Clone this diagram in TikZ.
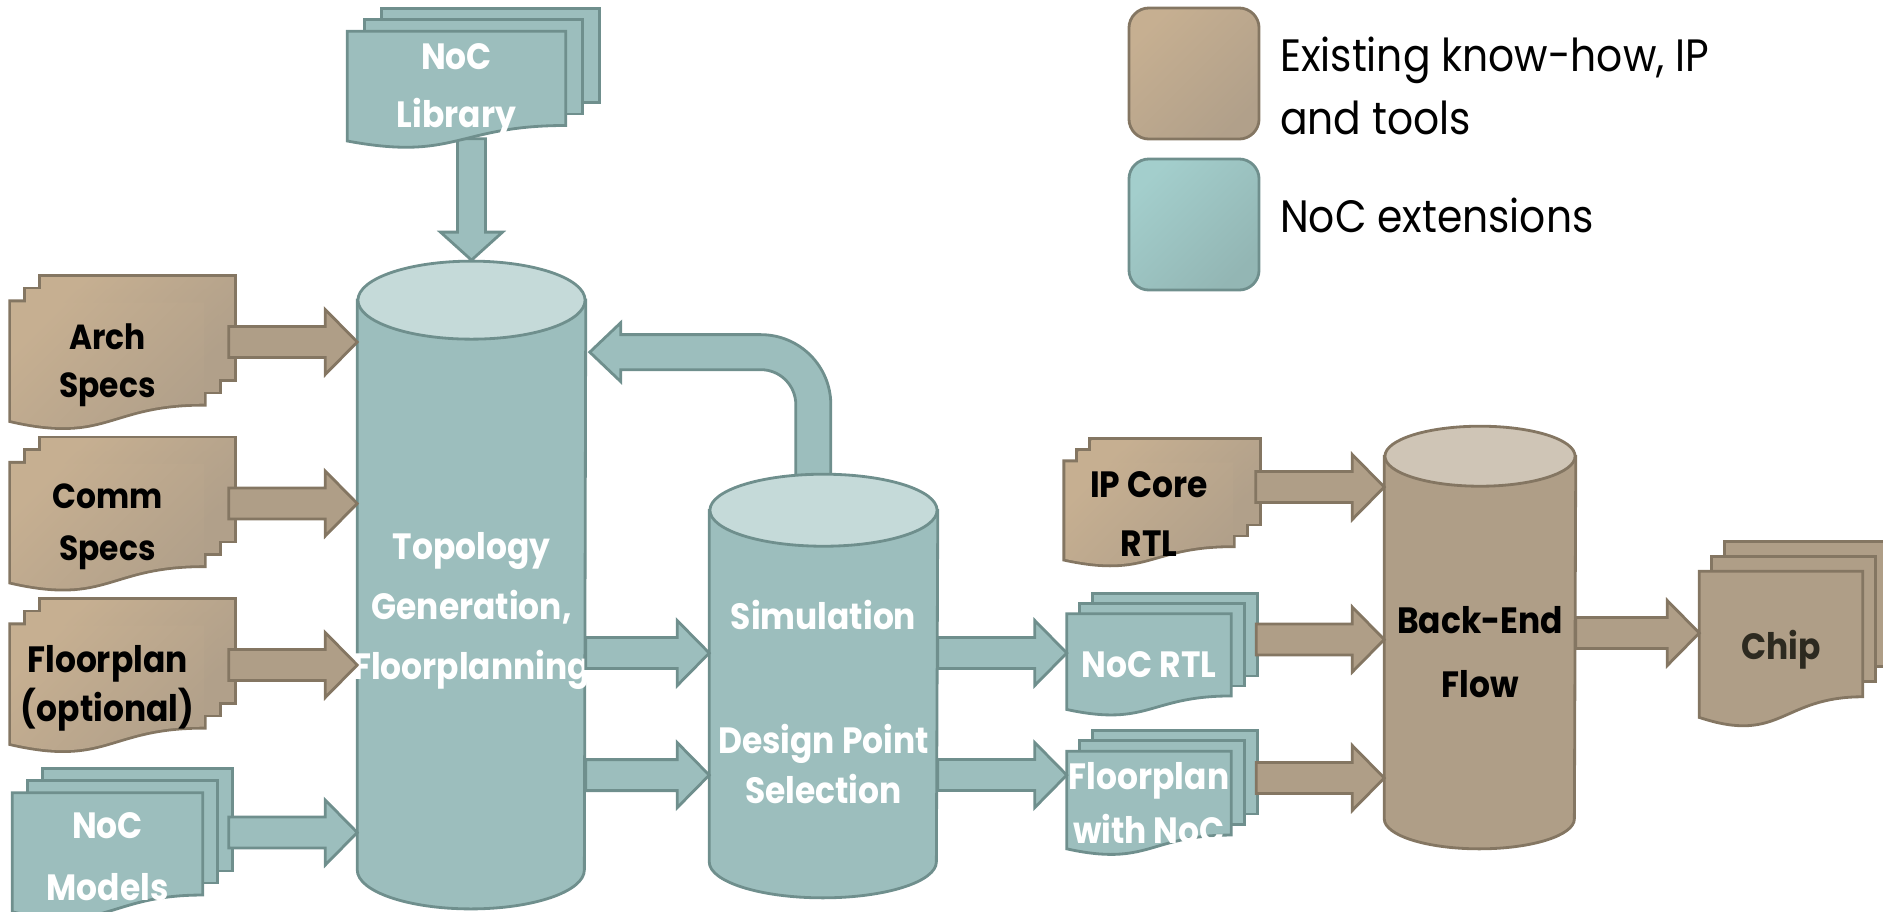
\documentclass[tikz,border=0pt]{standalone}
\usepackage{fontspec}
\setmainfont{Poppins}[FakeStretch=0.9]
\usetikzlibrary{positioning,calc,backgrounds}

\definecolor{tealF}{HTML}{9CBEBD}
\definecolor{tealD}{HTML}{6F8F8D}
\definecolor{tealTop}{HTML}{C5DAD9}
\definecolor{brownF}{HTML}{AF9E87}
\definecolor{brownD}{HTML}{847662}
\definecolor{brownTop}{HTML}{CFC5B6}
\definecolor{brownA}{HTML}{C6AF91}
\definecolor{brownB}{HTML}{B1A08A}
\definecolor{legtealA}{HTML}{A3CECC}
\definecolor{legtealB}{HTML}{93B6B4}
\definecolor{chiptext}{HTML}{2D2A20}

% three stacked sheets behind a named front page
\newcommand{\pages}[4]{%
  \path[#4] ($(#1.north west)+(2*#2,-2*#3)$) rectangle ($(#1.north east)!.802!(#1.south east)+(2*#2,-2*#3)$);
  \path[#4] ($(#1.north west)+(#2,-#3)$) rectangle ($(#1.north east)!.802!(#1.south east)+(#2,-#3)$);
  \path[#4] (#1.north west) -- (#1.north east) -- ($(#1.north east)!.802!(#1.south east)$)
    .. controls ($(#1.north)!.802!(#1.south)$) and ($(#1.north)!1.1075!(#1.south)$)
    .. ($(#1.north west)!.934!(#1.south west)$) -- cycle;}

% block arrow from a start point to the x of a target node
\newcommand{\barrow}[3]{%
  \path[#1] let \p1=(#2), \p2=(#3) in
    (\x1,{\y1+0.155cm}) -- ({\x2-0.32cm},{\y1+0.155cm}) -- ({\x2-0.32cm},{\y1+0.325cm})
    -- (\x2,\y1) -- ({\x2-0.32cm},{\y1-0.325cm}) -- ({\x2-0.32cm},{\y1-0.155cm})
    -- (\x1,{\y1-0.155cm}) -- cycle;}

\begin{document}
\begin{tikzpicture}[
    x=0.01cm, y=-0.01cm,
    page/.style={inner xsep=-0.4cm, inner ysep=-0.2cm, align=center},
    body/.style={inner sep=0pt},
    wtxt/.style={text=white, align=center, inner sep=0pt, font=\bfseries\fontsize{10.4}{#1}\selectfont},
    wtxt/.default=16.5,
    btxt/.style={text=black, align=center, inner sep=0pt, font=\bfseries\fontsize{10.4}{#1}\selectfont},
    btxt/.default=16.5,
    bsmall/.style={text=black, align=center, font=\bfseries\fontsize{9.9}{#1}\selectfont},
    bsmall/.default=13.7,
    legtxt/.style={align=left, inner sep=0pt, font=\fontsize{12.9}{17.9}\selectfont},
    legend/.style={minimum width=1.30cm, minimum height=1.31cm, rounded corners=0.2cm, line width=.8pt},
    tealpage/.style={fill=tealF, draw=tealD, line width=.8pt},
    tealcap/.style={fill=tealTop, draw=tealD, line width=.8pt},
    brownpage/.style={fill=brownF, draw=brownD, line width=.8pt},
    browncap/.style={fill=brownTop, draw=brownD, line width=.8pt},
    brownedge/.style={draw=brownD, line width=1.6pt},
    brownfill/.style={top color=brownA, bottom color=brownB, shading angle=45},
    tealarrow/.style={fill=tealF, draw=tealD, line width=.8pt},
    brownarrow/.style={fill=brownF, draw=brownD, line width=.8pt}
]
\useasboundingbox (0,0) rectangle (1883,911);

% legend
\node[legend, draw=brownD, top color=brownA, bottom color=brownB, shading angle=45] (legA) at (1194,73.5) {};
\node[legend, draw=tealD, top color=legtealA, bottom color=legtealB, shading angle=45] (legB) at (1194,224.5) {};
\node[legtxt, right=0.19cm of legA, yshift=-0.12cm] (legAT) {Existing know-how, IP\\and tools};
\node[legtxt, right=0.19cm of legB, yshift=0.095cm] (legBT) {NoC extensions};

% inputs
\node[page, wtxt=16.5, minimum width=2.17cm, minimum height=1.16cm] (lib) at (456.5,90) {NoC\\Library};
\node[page, bsmall, minimum width=1.91cm, minimum height=1.25cm] (arch) at (107.5,365.5) {Arch\\Specs};
\node[page, bsmall=14.8, minimum width=1.91cm, minimum height=1.25cm, below=0.35cm of arch] (comm) {Comm\\Specs};
\node[page, btxt=14, minimum width=1.91cm, minimum height=1.25cm, below=0.35cm of comm] (floor) {Floorplan\\(optional)};
\node[page, wtxt=17.6, minimum width=1.89cm, minimum height=1.26cm, below=0.41cm of floor] (models) {NoC\\Models};

% tools
\node[body, minimum width=2.27cm, minimum height=5.68cm] (topo) at (471.5,585) {};
\node[wtxt=17] (topoT) at ([yshift=-0.26cm]topo.center) {Topology\\Generation,\\Floorplanning};
\node[body, minimum width=2.27cm, minimum height=3.50cm] (sim) at (823.5,686) {};
\node[wtxt=14.2] (simT) at ([yshift=-0.16cm]sim.center) {Simulation\\[0.74cm]Design Point\\Selection};

% outputs
\node[page, btxt=16.8, minimum width=1.66cm, minimum height=1.02cm] (ipcore) at (1149,514) {IP Core\\RTL};
\node[page, wtxt, minimum width=1.63cm, minimum height=1.01cm, below=0.48cm of ipcore] (nocrtl) {NoC RTL};
\node[page, wtxt=15.4, minimum width=1.63cm, minimum height=1.03cm, below=0.35cm of nocrtl] (fpnoc) {Floorplan\\with NoC};
\node[body, minimum width=1.90cm, minimum height=3.61cm] (be) at (1480,637.5) {};
\node[btxt=18.2] (beT) at ([yshift=-0.15cm]be.center) {Back-End\\Flow};
\node[page, btxt, text=chiptext, minimum width=1.62cm, minimum height=1.55cm] (chip) at (1781,649.5) {Chip};

\begin{scope}[on background layer]
% arrows that go behind the shapes
\path[tealarrow] let \p1=([yshift=0.40cm]topo.north), \p2=(lib.south) in
  ({\x1-0.14cm},{\y2+0.1cm}) -- ({\x1-0.14cm},{\y1+0.28cm}) -- ({\x1-0.31cm},{\y1+0.28cm}) -- (\x1,\y1)
  -- ({\x1+0.31cm},{\y1+0.28cm}) -- ({\x1+0.14cm},{\y1+0.28cm}) -- ({\x1+0.14cm},{\y2+0.1cm}) -- cycle;
\path[tealarrow] ([shift={(4,52)}]topo.north east) -- ++(31,-29.5) -- ++(0,12) -- ++(140,0)
  arc[start angle=90, end angle=0, radius=0.7cm] -- ++(0,95) -- ++(-35,0) -- ++(0,-95)
  arc[start angle=0, end angle=90, radius=0.35cm] -- ++(-140,0) -- ++(0,12) -- cycle;

% sheets
\pages{lib}{17}{11.5}{tealpage}
\pages{models}{15}{12}{tealpage}
\pages{nocrtl}{13}{10}{tealpage}
\pages{fpnoc}{13}{10.5}{tealpage}
\pages{chip}{12.5}{15}{brownpage}
\foreach \s in {arch,comm,floor}{\pages{\s}{15}{12.5}{brownedge}}
\foreach \s in {arch,comm,floor}{\pages{\s}{15}{12.5}{brownfill}}
\pages{ipcore}{13}{11}{brownedge}
\pages{ipcore}{13}{11}{brownfill}

% cylinders
\path[tealpage] (topo.north west) -- (topo.south west) arc[start angle=180, end angle=360, x radius=1.135cm, y radius=.39cm] -- (topo.north east) -- cycle;
\path[tealcap] (topo.north) ellipse[x radius=1.135cm, y radius=.39cm];
\path[tealpage] (sim.north west) -- (sim.south west) arc[start angle=180, end angle=360, x radius=1.135cm, y radius=.36cm] -- (sim.north east) -- cycle;
\path[tealcap] (sim.north) ellipse[x radius=1.135cm, y radius=.36cm];
\path[brownpage] (be.north west) -- (be.south west) arc[start angle=180, end angle=360, x radius=.95cm, y radius=.30cm] -- (be.north east) -- cycle;
\path[browncap] (be.north) ellipse[x radius=.95cm, y radius=.30cm];
\end{scope}

% block arrows
\foreach \s in {arch,comm,floor}{\barrow{brownarrow}{[shift={(25,-23.5)}]\s.east}{topo.west}}
\barrow{tealarrow}{[shift={(26,-24)}]models.east}{topo.west}
\barrow{tealarrow}{[yshift=-0.68cm]topo.east}{sim.west}
\barrow{tealarrow}{[yshift=-1.90cm]topo.east}{sim.west}
\barrow{tealarrow}{[yshift=0.33cm]sim.east}{nocrtl.west}
\barrow{tealarrow}{[yshift=-0.89cm]sim.east}{fpnoc.west}
\barrow{brownarrow}{[shift={(23,-27)}]ipcore.east}{be.west}
\barrow{brownarrow}{[shift={(25,-25.5)}]nocrtl.east}{be.west}
\barrow{brownarrow}{[shift={(25,-25.5)}]fpnoc.east}{be.west}
\barrow{brownarrow}{[yshift=0.045cm]be.east}{chip.west}

\end{tikzpicture}
\end{document}
